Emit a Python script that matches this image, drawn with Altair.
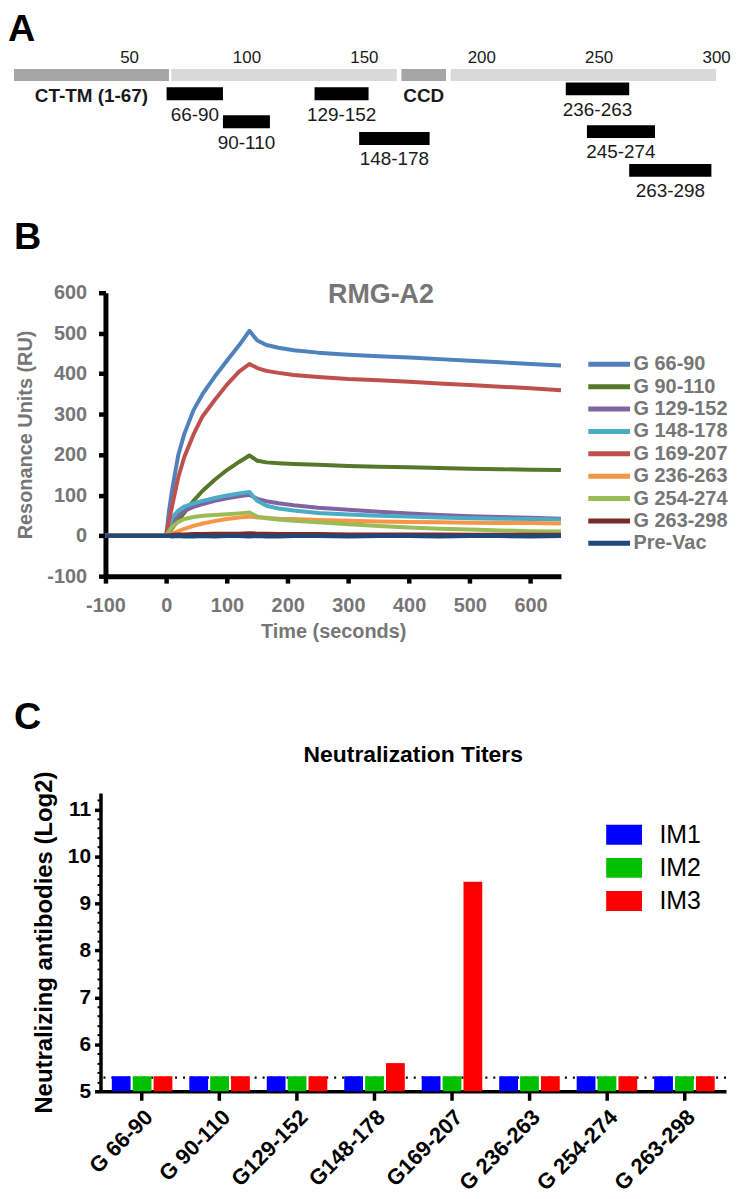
import altair as alt
import pandas as pd

FONT = "Liberation Sans, Arial, Helvetica, sans-serif"
GRAY_TXT = "#767676"

# ---------------- Panel A : G protein map ----------------
domain_start = [1, 68, 166, 187]
domain_end = [67, 164, 185, 300]
domain_name = ["CT-TM (1-67)", "", "CCD", ""]
domain_kind = ["dark", "light", "dark", "light"]
domain_lane = [0.0, 0.0, 0.0, 0.0]

fragment_name = ["66-90", "90-110", "129-152", "148-178", "236-263", "245-274", "263-298"]
fragment_start = [66, 90, 129, 148, 236, 245, 263]
fragment_end = [90, 110, 152, 178, 263, 274, 298]
fragment_lane = [0.95, 2.35, 0.95, 3.2, 0.7, 2.85, 4.8]
position_ticks = [50, 100, 150, 200, 250, 300]

# ---------------- Panel B : SPR sensorgrams ----------------
time_s = [-100, 0, 5, 10, 20, 30, 45, 60, 80, 100, 120, 137, 150, 165, 185,
          210, 250, 300, 350, 400, 450, 500, 550, 600, 650]
series_names = ["G 66-90", "G 90-110", "G 129-152", "G 148-178", "G 169-207",
                "G 236-263", "G 254-274", "G 263-298", "Pre-Vac"]
series_colors = ["#4f81bd", "#57782a", "#8064a2", "#4bacc6", "#c0504d",
                 "#f79646", "#9bbb59", "#772c2a", "#1f497d"]
ru_g66_90 = [0, 0, 65, 115, 200, 252, 310, 350, 393, 432, 470, 506, 482, 471, 464,
             458, 452, 447, 443, 440, 436, 432, 428, 424, 420]
ru_g90_110 = [0, 0, 9, 19, 38, 57, 86, 111, 138, 162, 182, 198, 185, 181, 179,
              177, 175, 172, 170, 169, 167, 165, 164, 163, 162]
ru_g129_152 = [0, 0, 18, 33, 50, 61, 71, 78, 86, 92, 97, 101, 91, 85, 80,
               75, 69, 64, 59, 55, 51, 48, 46, 44, 42]
ru_g148_178 = [0, 0, 25, 45, 62, 72, 80, 86, 93, 99, 104, 108, 86, 74, 67,
               62, 56, 52, 49, 47, 45, 43, 42, 41, 40]
ru_g169_207 = [0, 0, 40, 75, 145, 195, 250, 295, 335, 373, 405, 424, 414, 407, 402,
               397, 392, 387, 384, 380, 376, 372, 368, 364, 359]
ru_g236_263 = [0, 0, 2, 5, 11, 17, 24, 30, 36, 41, 45, 47, 45, 44, 42,
               41, 39, 37, 35, 34, 33, 32, 31, 31, 30]
ru_g254_274 = [0, 0, 12, 22, 34, 41, 46, 49, 51, 53, 55, 57, 47, 43, 40,
               37, 33, 28, 24, 20, 17, 15, 13, 11, 10]
ru_g263_298 = [0, 0, 1, 2, 3, 3, 4, 4, 5, 5, 5, 6, 5, 5, 4,
               4, 4, 3, 3, 3, 3, 2, 2, 2, 2]
ru_prevac = [0, 0, -1, -2, -1, -2, -2, -1, -2, -1, -1, -2, -1, -2, -2,
             -1, -1, -2, -1, -1, -2, -1, -1, -2, -1]
time_ticks = [-100, 0, 100, 200, 300, 400, 500, 600]
ru_ticks = [-100, 0, 100, 200, 300, 400, 500, 600]

# ---------------- Panel C : neutralization titers ----------------
group_names = ["G 66-90", "G 90-110", "G129-152", "G148-178", "G169-207",
               "G 236-263", "G 254-274", "G 263-298"]
im_names = ["IM1", "IM2", "IM3"]
im_colors = ["#0000ff", "#00c000", "#ff0000"]
titer_im1 = [5.32, 5.32, 5.32, 5.32, 5.32, 5.32, 5.32, 5.32]
titer_im2 = [5.32, 5.32, 5.32, 5.32, 5.32, 5.32, 5.32, 5.32]
titer_im3 = [5.32, 5.32, 5.32, 5.6, 9.46, 5.32, 5.32, 5.32]
detection_limit = 5.29
titer_axis_min = 5
titer_ticks = [5, 6, 7, 8, 9, 10, 11]
titer_minor_ticks = [round(5 + 0.2 * i, 1) for i in range(1, 32) if i % 5 != 0]

# ======================= Panel A =======================
dom_df = pd.DataFrame({"start": domain_start, "end": domain_end, "name": domain_name,
                       "kind": domain_kind, "lane": domain_lane})
frag_df = pd.DataFrame({"start": fragment_start, "end": fragment_end,
                        "name": fragment_name, "lane": fragment_lane})

xA = alt.Scale(domain=[1, 300], nice=False, zero=False)
yA = alt.Scale(domain=[-0.4, 6.2], nice=False, zero=False, reverse=True)
axA = alt.Axis(orient="top", values=position_ticks, domain=False, ticks=False, grid=False,
               labelFont=FONT, labelFontSize=17, labelColor="#1a1a1a", labelPadding=0,
               labelFlush=False, labelOverlap=False, title=None)


def xa(field):
    return alt.X(field, scale=xA, axis=axA, title=None)


def ya():
    return alt.Y("lane:Q", scale=yA, axis=None)


gray_bars = alt.Chart(dom_df).mark_rule(strokeWidth=12).encode(
    x=xa("start:Q"), x2="end:Q", y=ya(),
    color=alt.Color("kind:N", scale=alt.Scale(domain=["dark", "light"],
                                              range=["#a6a6a6", "#d9d9d9"]), legend=None),
)
dom_text = alt.Chart(dom_df).transform_calculate(
    mid="(datum.start + datum.end) / 2"
).mark_text(dy=21, font=FONT, fontSize=19, fontWeight="bold", color="#1a1a1a").encode(
    x=xa("mid:Q"), y=ya(), text="name:N",
)
frag_bars = alt.Chart(frag_df).mark_rule(strokeWidth=13, color="black").encode(
    x=xa("start:Q"), x2="end:Q", y=ya(),
)
frag_text = alt.Chart(frag_df).transform_calculate(
    mid="(datum.start + datum.end) / 2"
).mark_text(dy=21, font=FONT, fontSize=19, color="#1a1a1a").encode(
    x=xa("mid:Q"), y=ya(), text="name:N",
)
chartA = alt.layer(gray_bars, dom_text, frag_bars, frag_text).properties(
    width=706, height=132,
    title=alt.TitleParams("A", anchor="start", font=FONT, fontSize=38,
                          fontWeight="bold", color="black", offset=0),
)

# ======================= Panel B =======================
rows = []
for name, vals in zip(series_names, [ru_g66_90, ru_g90_110, ru_g129_152, ru_g148_178,
                                     ru_g169_207, ru_g236_263, ru_g254_274,
                                     ru_g263_298, ru_prevac]):
    for t, v in zip(time_s, vals):
        rows.append({"t": t, "ru": v, "series": name})
spr_df = pd.DataFrame(rows)

axis_b = dict(domainColor="black", domainWidth=5, tickColor="black", tickWidth=4.5,
              tickSize=7, grid=False, labelFont=FONT, labelFontSize=20,
              labelFontWeight="bold", labelColor=GRAY_TXT, labelFlush=False,
              labelOverlap=False, labelExpr="'' + datum.value", titleFont=FONT,
              titleFontSize=20, titleFontWeight="bold", titleColor=GRAY_TXT)

chartB = alt.Chart(spr_df).mark_line(strokeWidth=4, strokeJoin="round").encode(
    x=alt.X("t:Q", scale=alt.Scale(domain=[-100, 650], nice=False, zero=False),
            axis=alt.Axis(values=time_ticks, title="Time (seconds)", labelPadding=13,
                          titlePadding=6, **axis_b)),
    y=alt.Y("ru:Q", scale=alt.Scale(domain=[-100, 600], nice=False, zero=False),
            axis=alt.Axis(values=ru_ticks, title="Resonance Units (RU)", labelPadding=12,
                          titlePadding=11, **axis_b)),
    color=alt.Color("series:N", sort=series_names,
                    scale=alt.Scale(domain=series_names, range=series_colors),
                    legend=alt.Legend(title=None, orient="none", legendX=483, legendY=62,
                                      symbolType="stroke", symbolSize=1764,
                                      symbolStrokeWidth=5, labelFont=FONT,
                                      labelFontSize=20, labelFontWeight="bold",
                                      labelColor=GRAY_TXT, labelOffset=1,
                                      clipHeight=20, rowPadding=2.5, padding=0)),
).properties(
    width=458, height=285,
    title=alt.TitleParams("RMG-A2", font=FONT, fontSize=27, fontWeight="bold",
                          color=GRAY_TXT, anchor="middle", dx=48, dy=26, offset=0),
)


def spacer():
    return alt.Chart(pd.DataFrame({"s": [0]})).mark_text(text="").encode(
        x=alt.value(0), y=alt.value(0)).properties(width=1, height=1)


def independent(c):
    return c.resolve_scale(x="independent", y="independent", color="independent"
                           ).resolve_axis(x="independent", y="independent")


groupB = independent(alt.hconcat(spacer(), chartB, spacing=0)).properties(
    title=alt.TitleParams("B", anchor="start", font=FONT, fontSize=38,
                          fontWeight="bold", color="black", offset=24))

# ======================= Panel C =======================
crow = []
for im, vals in zip(im_names, [titer_im1, titer_im2, titer_im3]):
    for g, v in zip(group_names, vals):
        crow.append({"group": g, "im": im, "value": v})
titer_df = pd.DataFrame(crow)

yC = alt.Scale(domain=[5, 11.35], nice=False, zero=False)
xC = alt.Scale(domain=group_names, paddingInner=0, paddingOuter=0.037)
is_major = "datum.value % 1 === 0"
axC = alt.Axis(orient="left", values=sorted(titer_ticks + titer_minor_ticks),
               labelExpr="datum.value % 1 === 0 ? '' + datum.value : ''",
               title="Neutralizing antibodies (Log2)", labelFont=FONT,
               labelFontSize=21, labelFontWeight="bold", labelColor="black",
               labelPadding=4, labelFlush=False, labelOverlap=False,
               tickSize={"condition": {"test": is_major, "value": 6}, "value": 3.5},
               tickWidth={"condition": {"test": is_major, "value": 3.5}, "value": 2},
               tickColor="black", domainWidth=3.5, domainColor="black",
               grid=False, titleFont=FONT, titleFontSize=24,
               titleFontWeight="bold", titleColor="black", titlePadding=11)
axCx = alt.Axis(title=None, labelAngle=-45, labelAlign="right", labelBaseline="top",
                labelFont=FONT, labelFontSize=22, labelFontWeight="bold",
                labelColor="black", labelPadding=6, labelOverlap=False, labelLimit=300,
                tickSize=9, tickWidth=3.5, tickColor="black",
                domainWidth=3.5, domainColor="black", grid=False)

limit_rule = alt.Chart(pd.DataFrame({"value": [detection_limit]})).mark_rule(
    color="black", strokeWidth=2.2, strokeDash=[2, 6]
).encode(
    y=alt.Y("value:Q", scale=yC, axis=axC),
)
bars = alt.Chart(titer_df).mark_bar().encode(
    x=alt.X("group:N", sort=group_names, scale=xC, axis=axCx),
    xOffset=alt.XOffset("im:N", sort=im_names,
                        scale=alt.Scale(paddingInner=0.1, paddingOuter=0.405)),
    y=alt.Y("value:Q", scale=yC, axis=axC),
    y2=alt.datum(titer_axis_min),
    color=alt.Color("im:N", sort=im_names,
                    scale=alt.Scale(domain=im_names, range=im_colors),
                    legend=alt.Legend(title=None, orient="none", legendX=506, legendY=27,
                                      symbolType="M-1.8,-1H1.8V1H-1.8Z", symbolSize=400,
                                      symbolOffset=8, symbolStrokeWidth=0,
                                      labelOffset=23, labelFont=FONT, labelFontSize=25,
                                      labelColor="black", clipHeight=30, rowPadding=3.3,
                                      padding=0)),
)
chartC = alt.layer(limit_rule, bars).properties(
    width=629, height=300,
    title=alt.TitleParams("Neutralization Titers", font=FONT, fontSize=23,
                          fontWeight="bold", color="black", anchor="middle", offset=4),
)
groupC = independent(alt.hconcat(spacer(), chartC, spacing=17)).properties(
    title=alt.TitleParams("C", anchor="start", font=FONT, fontSize=38,
                          fontWeight="bold", color="black", offset=7))

lower = independent(alt.vconcat(groupB, groupC, spacing=57))
chart = independent(alt.vconcat(chartA, lower, spacing=18)).properties(
    padding=0).configure_view(stroke=None)

chart.save("out.html", embed_options={"renderer": "svg", "actions": False})
